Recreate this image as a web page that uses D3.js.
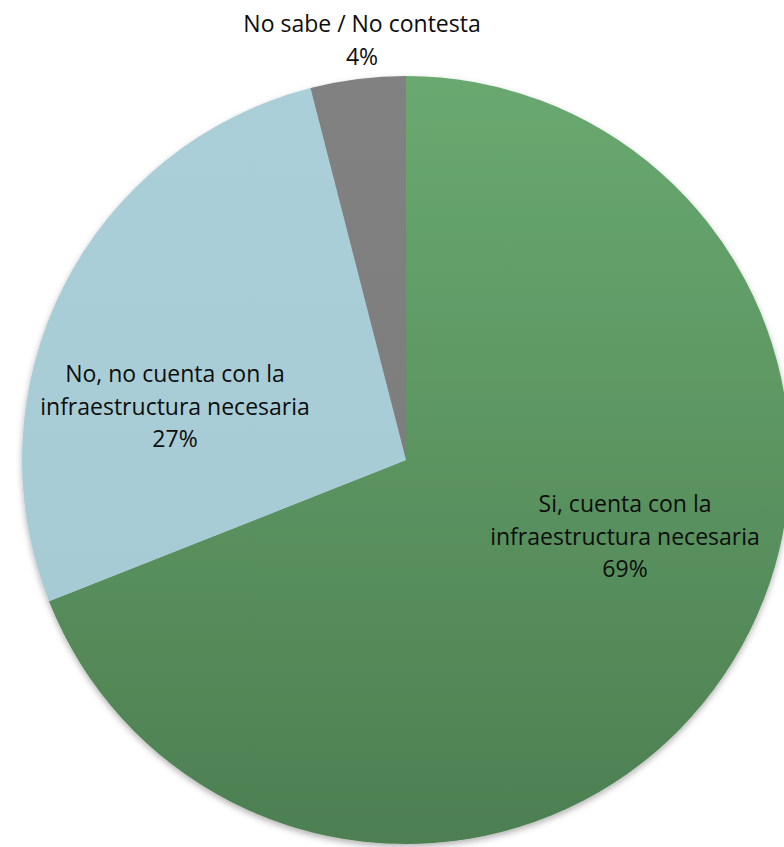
<!DOCTYPE html>
<html>
<head>
<meta charset="utf-8">
<script src="https://cdn.jsdelivr.net/npm/d3@7"></script>
<style>
  html, body { margin: 0; padding: 0; background: #fff; }
  #chart { width: 784px; height: 847px; }
</style>
</head>
<body>
<div id="chart"></div>
<script>
// pie data
const categories = [
  "Si, cuenta con la infraestructura necesaria",
  "No, no cuenta con la infraestructura necesaria",
  "No sabe / No contesta"
];
const values = [69, 27, 4];
const labelLines = [
  ["Si, cuenta con la", "infraestructura necesaria", "69%"],
  ["No, no cuenta con la", "infraestructura necesaria", "27%"],
  ["No sabe / No contesta", "4%"]
];

function drawPie(container) {
  const W = 784, H = 847;
  const cx = 406, cy = 460, r = 384;

  const svg = d3.select(container).append("svg")
    .attr("width", W).attr("height", H);

  const defs = svg.append("defs");
  const grads = [
    ["g0", "#69a970", "#4d7f51"],
    ["g1", "#abcfd9", "#a5c9d3"],
    ["g2", "#818181", "#7a7a7a"]
  ];
  grads.forEach(([id, c0, c1]) => {
    const g = defs.append("linearGradient")
      .attr("id", id)
      .attr("gradientUnits", "userSpaceOnUse")
      .attr("x1", 0).attr("y1", -r)
      .attr("x2", 0).attr("y2", r);
    g.append("stop").attr("offset", "0%").attr("stop-color", c0);
    g.append("stop").attr("offset", "100%").attr("stop-color", c1);
  });

  const shadow = defs.append("filter").attr("id", "shadow")
    .attr("x", "-10%").attr("y", "-10%").attr("width", "120%").attr("height", "120%");
  shadow.append("feDropShadow")
    .attr("dx", 0).attr("dy", 3).attr("stdDeviation", 3)
    .attr("flood-color", "#000").attr("flood-opacity", 0.3);

  const pie = d3.pie().sort(null).value(d => d)
    .startAngle(0).endAngle(2 * Math.PI);
  const arcs = pie(values);
  const arc = d3.arc().innerRadius(0).outerRadius(r);

  const g = svg.append("g").attr("transform", `translate(${cx},${cy})`);

  g.append("g").attr("filter", "url(#shadow)")
    .selectAll("path")
    .data(arcs)
    .join("path")
      .attr("d", arc)
      .attr("fill", (d, i) => `url(#g${i})`);

  // first-line baseline of each label, relative to pie centre
  const labelPos = [[219, 52], [-231, -78], [-44, -428]];
  const lineH = 32.5;

  arcs.forEach((d, i) => {
    const lines = labelLines[i];
    const [lx, ly] = labelPos[i];
    const t = g.append("text")
      .attr("text-anchor", "middle")
      .attr("font-family", "'Open Sans', sans-serif")
      .attr("font-size", 23)
      .attr("fill", "#0d0d0d");
    lines.forEach((s, k) => {
      t.append("tspan")
        .attr("x", lx)
        .attr("y", ly + k * lineH)
        .text(s);
    });
  });
}

drawPie(document.getElementById("chart"));
</script>
</body>
</html>
